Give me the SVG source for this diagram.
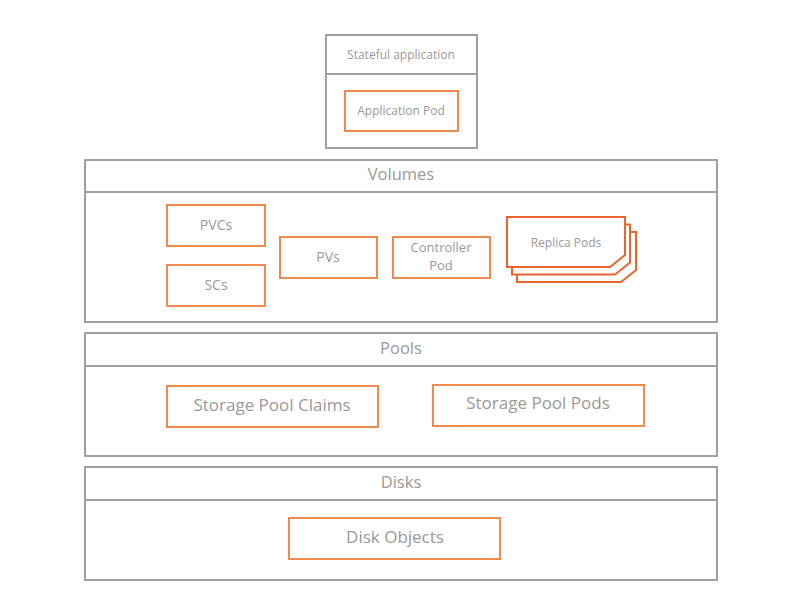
<svg xmlns="http://www.w3.org/2000/svg" width="800" height="610" viewBox="0 0 800 610">
<style>
.layer{fill:#fff;stroke:#a0a0a0;stroke-width:2}
.sep{stroke:#a0a0a0;stroke-width:2;fill:none}
.box{fill:#fff;stroke:#f0894f;stroke-width:2}
.rep{fill:#fff;stroke:#e8652f;stroke-width:2}
text{font-family:"Open Sans",Lato,sans-serif;fill:#999;text-anchor:middle}
.t12{font-size:12px}
.t13{font-size:13px}
.t14{font-size:14px}
.t16{font-size:16.5px}
.t17{font-size:17px}
</style>
<rect width="800" height="610" fill="#fff"/>
<g id="stateful-application">
<rect class="layer" x="326" y="35" width="151" height="113"/>
<line class="sep" x1="326" y1="74" x2="477" y2="74"/>
<text class="t12" x="401" y="59">Stateful application</text>
</g>
<g id="application-pod">
<rect class="box" x="345" y="91" width="113" height="40"/>
<text class="t12" x="401" y="115">Application Pod</text>
</g>
<g id="volumes">
<rect class="layer" x="85" y="160" width="632" height="162"/>
<line class="sep" x1="85" y1="192" x2="717" y2="192"/>
<text class="t16" x="401" y="180">Volumes</text>
</g>
<g id="pvcs">
<rect class="box" x="167" y="205" width="98" height="41"/>
<text class="t14" x="216" y="230">PVCs</text>
</g>
<g id="scs">
<rect class="box" x="167" y="265" width="98" height="41"/>
<text class="t14" x="216" y="290">SCs</text>
</g>
<g id="pvs">
<rect class="box" x="280" y="237" width="97" height="41"/>
<text class="t14" x="328" y="262">PVs</text>
</g>
<g id="controller-pod">
<rect class="box" x="393" y="237" width="97" height="41"/>
<text class="t13" x="441" y="252">Controller</text>
<text class="t13" x="441" y="270">Pod</text>
</g>
<g id="replica-pods">
<path class="rep" d="M517,232 H636 V270 L621,282 H517 Z"/>
<path class="rep" d="M512,224.5 H630 V262.5 L615,274.5 H512 Z"/>
<path class="rep" d="M507,217 H625 V255 L610,267 H507 Z"/>
<text class="t12" x="566" y="247">Replica Pods</text>
</g>
<g id="pools">
<rect class="layer" x="85" y="333" width="632" height="123"/>
<line class="sep" x1="85" y1="366" x2="717" y2="366"/>
<text class="t16" x="401" y="354">Pools</text>
</g>
<g id="storage-pool-claims">
<rect class="box" x="167" y="386" width="211" height="41"/>
<text class="t17" x="272" y="411">Storage Pool Claims</text>
</g>
<g id="storage-pool-pods">
<rect class="box" x="433" y="385" width="211" height="41"/>
<text class="t17" x="538" y="409">Storage Pool Pods</text>
</g>
<g id="disks">
<rect class="layer" x="85" y="467" width="632" height="113"/>
<line class="sep" x1="85" y1="500" x2="717" y2="500"/>
<text class="t16" x="401" y="488">Disks</text>
</g>
<g id="disk-objects">
<rect class="box" x="289" y="518" width="211" height="41"/>
<text class="t17" x="395" y="543">Disk Objects</text>
</g>
<g id="connectors"></g>
</svg>
